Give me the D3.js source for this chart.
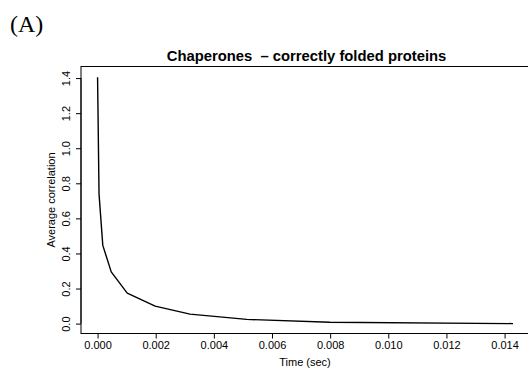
<!DOCTYPE html>
<html>
<head>
<meta charset="utf-8">
<script src="https://cdn.jsdelivr.net/npm/d3@7"></script>
<style>
  html, body { margin: 0; padding: 0; background: #fff; }
  svg { display: block; }
</style>
</head>
<body>
<svg id="chart" width="528" height="372"></svg>
<script>
const times = [0, 0.00005, 0.00018, 0.00047, 0.00102, 0.00198, 0.00318, 0.00513, 0.00799, 0.01429];
const correlation = [1.405, 0.74, 0.446, 0.295, 0.174, 0.100, 0.054, 0.024, 0.0074, 0.0];
const xTicks = [0, 0.002, 0.004, 0.006, 0.008, 0.010, 0.012, 0.014];
const yTicks = [0, 0.2, 0.4, 0.6, 0.8, 1.0, 1.2, 1.4];
const title = "Chaperones  \u2013 correctly folded proteins";
const xLabel = "Time (sec)";
const yLabel = "Average correlation";
const panelLabel = "(A)";

(function () {
const svg = d3.select("#chart");
const font = "'Liberation Sans', Arial, Helvetica, sans-serif";

const pLeft = 81, pRight = 529, pTop = 66.5, pBottom = 333.5;
const x = d3.scaleLinear().domain([-0.00057, 0.01484]).range([pLeft, pRight]);
const y = d3.scaleLinear().domain([-0.0564, 1.466]).range([pBottom, pTop]);

// panel label
svg.append("text").attr("x", 10).attr("y", 32)
  .attr("font-family", "'Liberation Serif', 'Times New Roman', serif")
  .attr("font-size", 24).attr("fill", "#000").text(panelLabel);

// title
svg.append("text").attr("x", 306.5).attr("y", 61)
  .attr("text-anchor", "middle").attr("font-family", font)
  .attr("font-weight", "bold").attr("font-size", 14.8).attr("fill", "#000")
  .style("white-space", "pre")
  .text(title);

// box
svg.append("rect").attr("x", pLeft).attr("y", pTop)
  .attr("width", pRight - pLeft).attr("height", pBottom - pTop)
  .attr("fill", "none").attr("stroke", "#000").attr("stroke-width", 1);

// x axis
const xAxis = d3.axisBottom(x).tickValues(xTicks).tickFormat(d3.format(".3f"))
  .tickSize(5).tickPadding(3);
const gx = svg.append("g").attr("transform", `translate(0,${pBottom})`).call(xAxis);
gx.select(".domain").attr("d", `M${x(xTicks[0])},0H${x(xTicks[xTicks.length-1])}`);
gx.selectAll("text").attr("font-family", font).attr("font-size", 11).attr("fill", "#000");
gx.selectAll("line, path").attr("stroke", "#000");

// y axis
const yAxis = d3.axisLeft(y).tickValues(yTicks).tickFormat(d3.format(".1f"))
  .tickSize(5).tickPadding(0);
const gy = svg.append("g").attr("transform", `translate(${pLeft},0)`).call(yAxis);
gy.select(".domain").attr("d", `M0,${y(yTicks[0])}V${y(yTicks[yTicks.length-1])}`);
gy.selectAll("line, path").attr("stroke", "#000");
gy.selectAll(".tick text")
  .attr("x", 0).attr("dy", null).attr("y", 0)
  .attr("text-anchor", "middle")
  .attr("transform", "translate(-11,0) rotate(-90)")
  .attr("font-family", font).attr("font-size", 11).attr("fill", "#000");

// axis labels
svg.append("text").attr("x", 305).attr("y", 366)
  .attr("text-anchor", "middle").attr("font-family", font)
  .attr("font-size", 11).attr("fill", "#000").text(xLabel);
svg.append("text")
  .attr("transform", `translate(55,${(pTop + pBottom) / 2}) rotate(-90)`)
  .attr("text-anchor", "middle").attr("font-family", font)
  .attr("font-size", 11).attr("fill", "#000").text(yLabel);

// line
const line = d3.line().x((d, i) => x(times[i])).y(d => y(d));
svg.append("path").datum(correlation)
  .attr("d", line).attr("fill", "none")
  .attr("stroke", "#000").attr("stroke-width", 1.4)
  .attr("stroke-linejoin", "round");
})();
</script>
</body>
</html>
